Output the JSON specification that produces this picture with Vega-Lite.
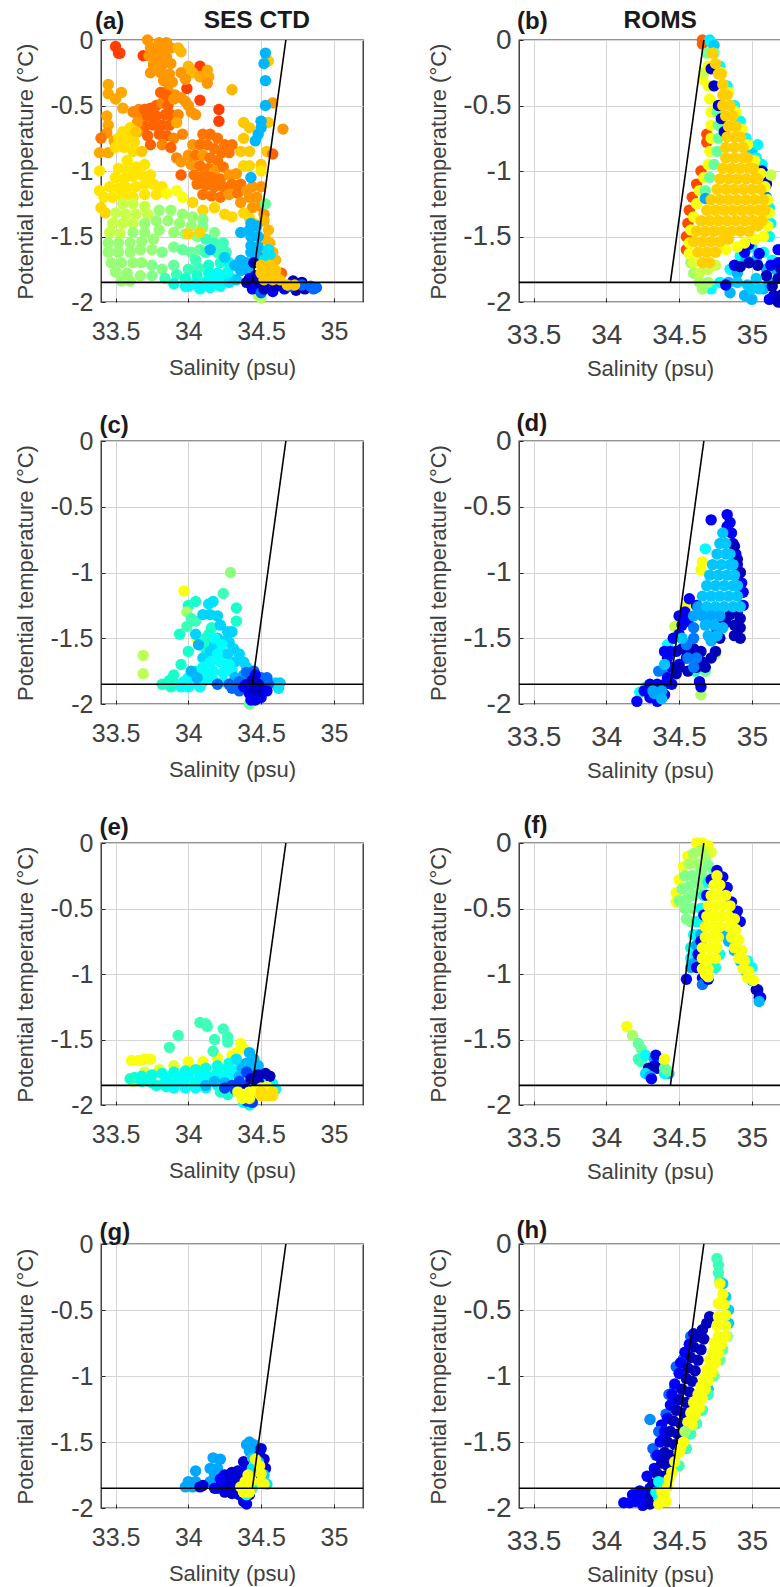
{"$schema":"https://vega.github.io/schema/vega-lite/v6.json","padding":{"left":14,"top":6,"right":0,"bottom":0},"bounds":"flush","columns":2,"spacing":{"row":139,"column":156},
"config":{"view":{"stroke":"#262626","strokeWidth":1.3},"font":"Liberation Sans","axis":{"grid":true,"gridColor":"#d4d4d4","gridWidth":1,"domain":false,"tickColor":"#262626","tickSize":-4,"labelColor":"#404040","titleColor":"#404040","titleFont":"Liberation Sans","labelFont":"Liberation Sans","titleFontWeight":"normal","titleFontSize":22},"title":{"font":"Liberation Sans","fontWeight":"bold","fontSize":24,"color":"#1a1a1a","anchor":"start","frame":"group"}},
"datasets":{"fl":[{"g":"h","s":33.4,"t":-1.85},{"g":"h","s":35.2,"t":-1.85},{"g":"v","s":34.44,"t":-1.85},{"g":"v","s":34.67,"t":0}],
"a":[{"s":33.5,"t":-0.05,"c":85},{"s":33.52,"t":-0.1,"c":85},{"s":33.53,"t":-0.1,"c":85},{"s":33.69,"t":-0.12,"c":85},{"s":34.08,"t":-0.2,"c":85},{"s":33.99,"t":-0.37,"c":85},{"s":34.08,"t":-0.46,"c":85},{"s":34.21,"t":-0.53,"c":85},{"s":34.21,"t":-0.62,"c":85},
{"s":33.72,"t":0,"c":76},{"s":33.8,"t":-0.02,"c":76},{"s":33.85,"t":-0.02,"c":76},{"s":33.74,"t":-0.06,"c":76},{"s":33.78,"t":-0.07,"c":76},{"s":33.83,"t":-0.07,"c":76},{"s":33.88,"t":-0.06,"c":76},{"s":33.73,"t":-0.12,"c":76},{"s":33.79,"t":-0.13,"c":76},{"s":33.85,"t":-0.13,"c":76},{"s":33.76,"t":-0.19,"c":76},{"s":33.82,"t":-0.19,"c":76},{"s":33.88,"t":-0.18,"c":76},{"s":33.74,"t":-0.25,"c":76},{"s":33.81,"t":-0.25,"c":76},{"s":33.87,"t":-0.26,"c":76},{"s":33.83,"t":-0.31,"c":76},{"s":33.89,"t":-0.32,"c":76},{"s":33.86,"t":-0.38,"c":76},{"s":33.91,"t":-0.42,"c":76},{"s":33.93,"t":-0.06,"c":72},{"s":33.95,"t":-0.09,"c":72},{"s":34,"t":-0.2,"c":72},{"s":34.03,"t":-0.25,"c":72},{"s":34.08,"t":-0.28,"c":74},{"s":34.13,"t":-0.23,"c":74},{"s":34.14,"t":-0.28,"c":74},{"s":34.13,"t":-0.33,"c":76},{"s":33.95,"t":-0.25,"c":76},{"s":33.98,"t":-0.3,"c":76},{"s":34.3,"t":-0.38,"c":72},
{"s":33.45,"t":-0.34,"c":74},{"s":33.45,"t":-0.41,"c":74},{"s":33.5,"t":-0.45,"c":74},{"s":33.54,"t":-0.4,"c":74},{"s":33.55,"t":-0.52,"c":74},{"s":33.44,"t":-0.58,"c":74},{"s":33.45,"t":-0.65,"c":74},{"s":33.44,"t":-0.71,"c":76},{"s":33.4,"t":-0.75,"c":80},{"s":33.39,"t":-0.86,"c":74},{"s":33.45,"t":-0.86,"c":74},{"s":33.49,"t":-0.77,"c":74},
{"s":33.62,"t":-0.55,"c":78},{"s":33.66,"t":-0.53,"c":78},{"s":33.7,"t":-0.53,"c":82},{"s":33.74,"t":-0.52,"c":82},{"s":33.78,"t":-0.5,"c":82},{"s":33.82,"t":-0.48,"c":78},{"s":33.86,"t":-0.5,"c":82},{"s":33.81,"t":-0.4,"c":82},{"s":33.85,"t":-0.42,"c":82},{"s":33.66,"t":-0.6,"c":78},{"s":33.72,"t":-0.58,"c":82},{"s":33.78,"t":-0.58,"c":82},{"s":33.84,"t":-0.57,"c":82},{"s":33.88,"t":-0.57,"c":82},{"s":33.93,"t":-0.57,"c":78},{"s":33.7,"t":-0.66,"c":82},{"s":33.76,"t":-0.65,"c":82},{"s":33.82,"t":-0.65,"c":82},{"s":33.87,"t":-0.65,"c":82},{"s":33.92,"t":-0.63,"c":74},{"s":33.65,"t":-0.7,"c":78},{"s":33.72,"t":-0.73,"c":82},{"s":33.8,"t":-0.72,"c":82},{"s":33.85,"t":-0.73,"c":82},{"s":33.9,"t":-0.75,"c":78},{"s":33.96,"t":-0.72,"c":78},{"s":33.74,"t":-0.8,"c":82},{"s":33.82,"t":-0.8,"c":78},{"s":33.88,"t":-0.82,"c":82},{"s":33.92,"t":-0.9,"c":78},{"s":33.9,"t":-0.45,"c":76},{"s":33.95,"t":-0.44,"c":76},{"s":33.98,"t":-0.47,"c":76},{"s":34,"t":-0.5,"c":76},{"s":34.02,"t":-0.55,"c":76},{"s":34.05,"t":-0.57,"c":76},{"s":33.6,"t":-0.7,"c":76},{"s":33.65,"t":-0.63,"c":76},
{"s":34.1,"t":-0.72,"c":80},{"s":34.15,"t":-0.72,"c":80},{"s":34.2,"t":-0.75,"c":80},{"s":34.25,"t":-0.8,"c":80},{"s":34.3,"t":-0.8,"c":80},{"s":34.03,"t":-0.8,"c":76},{"s":34.08,"t":-0.8,"c":80},{"s":34.13,"t":-0.8,"c":80},{"s":34.18,"t":-0.83,"c":80},{"s":34.23,"t":-0.86,"c":80},{"s":34.28,"t":-0.86,"c":80},{"s":34,"t":-0.88,"c":76},{"s":34.05,"t":-0.88,"c":80},{"s":34.1,"t":-0.88,"c":76},{"s":34.15,"t":-0.9,"c":80},{"s":34.2,"t":-0.92,"c":80},{"s":33.95,"t":-0.93,"c":76},{"s":34.02,"t":-0.95,"c":76},{"s":34.08,"t":-0.96,"c":80},{"s":34.14,"t":-0.98,"c":80},{"s":34.18,"t":-1,"c":76},{"s":34.24,"t":-0.97,"c":80},{"s":34.04,"t":-1.03,"c":80},{"s":33.95,"t":-1.03,"c":82},{"s":34.1,"t":-1.04,"c":80},{"s":34.16,"t":-1.05,"c":80},{"s":34.22,"t":-1.06,"c":80},{"s":34.28,"t":-1.03,"c":76},{"s":34.33,"t":-1.02,"c":76},{"s":34.06,"t":-1.1,"c":80},{"s":34.12,"t":-1.11,"c":80},{"s":34.18,"t":-1.12,"c":80},{"s":34.24,"t":-1.12,"c":80},{"s":34.3,"t":-1.1,"c":80},{"s":34.36,"t":-1.1,"c":80},{"s":34.1,"t":-1.18,"c":80},{"s":34.16,"t":-1.19,"c":80},{"s":34.22,"t":-1.2,"c":80},{"s":34.28,"t":-1.18,"c":76},{"s":34.34,"t":-1.17,"c":80},{"s":34.4,"t":-1.15,"c":76},{"s":34.44,"t":-1.12,"c":76},{"s":34.42,"t":-1.2,"c":76},{"s":34.47,"t":-1.2,"c":76},{"s":34.5,"t":-1.12,"c":76},{"s":34.36,"t":-1.24,"c":76},{"s":34.44,"t":-1.28,"c":76},{"s":34.5,"t":-1.27,"c":76},{"s":34.52,"t":-1.33,"c":76},
{"s":34.38,"t":-0.63,"c":70},{"s":34.42,"t":-0.67,"c":70},{"s":34.38,"t":-0.75,"c":70},{"s":34.36,"t":-0.85,"c":70},{"s":34.42,"t":-0.85,"c":70},{"s":34.55,"t":-0.63,"c":70},{"s":34.5,"t":-0.62,"c":70},{"s":34.58,"t":-0.48,"c":76},{"s":34.65,"t":-0.68,"c":76},{"s":34.54,"t":-0.85,"c":70},{"s":34.5,"t":-0.95,"c":70},{"s":34.38,"t":-0.96,"c":68},{"s":34.42,"t":-0.96,"c":68},{"s":34.5,"t":-1,"c":66},{"s":34.58,"t":-0.87,"c":82},{"s":34.55,"t":-0.16,"c":70},
{"s":34.52,"t":-1.38,"c":72},{"s":34.55,"t":-1.45,"c":72},{"s":34.53,"t":-1.52,"c":72},{"s":34.56,"t":-1.55,"c":72},{"s":34.58,"t":-1.62,"c":72},{"s":34.54,"t":-1.62,"c":72},{"s":34.6,"t":-1.68,"c":72},
{"s":34.1,"t":-1.3,"c":68},{"s":34.18,"t":-1.28,"c":68},{"s":34.25,"t":-1.33,"c":68},{"s":34.3,"t":-1.35,"c":68},{"s":34.38,"t":-1.32,"c":68},{"s":34.42,"t":-1.36,"c":68},{"s":34.45,"t":-1.4,"c":68},{"s":34.03,"t":-1.24,"c":68},{"s":33.96,"t":-1.2,"c":62},
{"s":33.55,"t":-0.7,"c":67},{"s":33.6,"t":-0.67,"c":67},{"s":33.64,"t":-0.7,"c":70},{"s":33.52,"t":-0.75,"c":67},{"s":33.58,"t":-0.75,"c":67},{"s":33.63,"t":-0.78,"c":67},{"s":33.5,"t":-0.82,"c":67},{"s":33.56,"t":-0.82,"c":67},{"s":33.62,"t":-0.85,"c":67},{"s":33.68,"t":-0.85,"c":70},{"s":33.58,"t":-0.92,"c":66},{"s":33.52,"t":-0.98,"c":66},{"s":33.58,"t":-1,"c":66},{"s":33.64,"t":-0.97,"c":66},{"s":33.7,"t":-0.95,"c":66},{"s":33.5,"t":-1.05,"c":66},{"s":33.56,"t":-1.06,"c":66},{"s":33.62,"t":-1.04,"c":66},{"s":33.68,"t":-1.03,"c":66},{"s":33.74,"t":-1.03,"c":66},{"s":33.46,"t":-1.12,"c":66},{"s":33.52,"t":-1.13,"c":66},{"s":33.58,"t":-1.13,"c":66},{"s":33.64,"t":-1.12,"c":66},{"s":33.7,"t":-1.1,"c":66},{"s":33.76,"t":-1.1,"c":66},{"s":33.82,"t":-1.12,"c":66},{"s":33.39,"t":-1,"c":66},{"s":33.39,"t":-1.15,"c":66},{"s":33.42,"t":-1.2,"c":66},{"s":33.48,"t":-1.2,"c":66},{"s":33.55,"t":-1.2,"c":66},{"s":33.62,"t":-1.2,"c":66},{"s":33.7,"t":-1.18,"c":66},{"s":33.78,"t":-1.18,"c":66},{"s":33.85,"t":-1.17,"c":63},{"s":33.92,"t":-1.15,"c":62},{"s":33.4,"t":-1.28,"c":68},{"s":33.43,"t":-1.32,"c":68},
{"s":33.55,"t":-1.25,"c":58},{"s":33.62,"t":-1.25,"c":58},{"s":33.7,"t":-1.27,"c":58},{"s":33.5,"t":-1.32,"c":58},{"s":33.57,"t":-1.33,"c":58},{"s":33.64,"t":-1.33,"c":58},{"s":33.72,"t":-1.33,"c":58},{"s":33.48,"t":-1.4,"c":58},{"s":33.55,"t":-1.4,"c":58},{"s":33.62,"t":-1.4,"c":58},{"s":33.46,"t":-1.47,"c":58},{"s":33.53,"t":-1.48,"c":58},
{"s":33.8,"t":-1.3,"c":54},{"s":33.88,"t":-1.3,"c":54},{"s":33.96,"t":-1.33,"c":54},{"s":34.03,"t":-1.35,"c":54},{"s":34.1,"t":-1.37,"c":52},{"s":33.7,"t":-1.4,"c":54},{"s":33.78,"t":-1.38,"c":54},{"s":33.86,"t":-1.38,"c":54},{"s":33.94,"t":-1.4,"c":54},{"s":34.02,"t":-1.42,"c":54},{"s":34.1,"t":-1.43,"c":52},{"s":34.18,"t":-1.47,"c":52},{"s":33.62,"t":-1.47,"c":54},{"s":33.7,"t":-1.47,"c":54},{"s":33.8,"t":-1.45,"c":54},{"s":33.45,"t":-1.55,"c":54},{"s":33.52,"t":-1.55,"c":54},{"s":33.6,"t":-1.55,"c":54},{"s":33.68,"t":-1.54,"c":54},{"s":33.76,"t":-1.52,"c":54},{"s":33.9,"t":-1.47,"c":54},{"s":33.98,"t":-1.48,"c":54},{"s":34.06,"t":-1.5,"c":52},{"s":33.45,"t":-1.62,"c":54},{"s":33.52,"t":-1.62,"c":54},{"s":33.6,"t":-1.62,"c":54},{"s":33.67,"t":-1.6,"c":54},{"s":33.75,"t":-1.6,"c":54},{"s":33.47,"t":-1.7,"c":54},{"s":33.54,"t":-1.7,"c":54},{"s":33.62,"t":-1.7,"c":54},{"s":33.5,"t":-1.77,"c":54},{"s":33.58,"t":-1.78,"c":54},{"s":33.68,"t":-1.7,"c":54},{"s":33.54,"t":-1.84,"c":54},{"s":33.6,"t":-1.84,"c":54},{"s":33.67,"t":-1.8,"c":54},{"s":33.75,"t":-1.72,"c":52},{"s":33.82,"t":-1.62,"c":52},{"s":33.9,"t":-1.58,"c":52},{"s":33.96,"t":-1.6,"c":50},{"s":34.02,"t":-1.62,"c":50},{"s":34.08,"t":-1.6,"c":50},{"s":33.75,"t":-1.8,"c":52},{"s":33.82,"t":-1.75,"c":52},{"s":33.9,"t":-1.72,"c":50},
{"s":34.12,"t":-1.52,"c":47},{"s":34.18,"t":-1.55,"c":47},{"s":34.24,"t":-1.55,"c":47},{"s":34.05,"t":-1.68,"c":47},{"s":34.12,"t":-1.62,"c":47},{"s":34.2,"t":-1.62,"c":47},{"s":34.26,"t":-1.62,"c":47},{"s":33.84,"t":-1.82,"c":47},{"s":33.92,"t":-1.79,"c":47},{"s":34,"t":-1.75,"c":47},{"s":34.07,"t":-1.74,"c":47},{"s":34.14,"t":-1.72,"c":45},{"s":34.22,"t":-1.7,"c":45},{"s":34.28,"t":-1.7,"c":42},{"s":33.98,"t":-1.82,"c":45},{"s":34.06,"t":-1.8,"c":45},{"s":34.14,"t":-1.78,"c":42},{"s":34.2,"t":-1.78,"c":42},{"s":34.27,"t":-1.77,"c":40},
{"s":34.53,"t":-1.25,"c":50},{"s":34.5,"t":-1.97,"c":56},{"s":34.48,"t":-1.95,"c":56},{"s":34.5,"t":-1.93,"c":56},{"s":34,"t":-1.48,"c":68},{"s":34.08,"t":-1.47,"c":68},{"s":34.15,"t":-1.6,"c":27},{"s":34.25,"t":-1.66,"c":30},
{"s":33.9,"t":-1.86,"c":42},{"s":33.98,"t":-1.88,"c":42},{"s":34.05,"t":-1.86,"c":40},{"s":34.12,"t":-1.85,"c":40},{"s":34.18,"t":-1.83,"c":40},{"s":34.25,"t":-1.82,"c":40},{"s":34.3,"t":-1.82,"c":38},{"s":34.15,"t":-1.89,"c":40},{"s":34.08,"t":-1.9,"c":42},{"s":34.22,"t":-1.88,"c":40},{"s":34,"t":-1.88,"c":37},{"s":34.07,"t":-1.88,"c":37},{"s":34.14,"t":-1.87,"c":37},{"s":34.22,"t":-1.85,"c":37},{"s":34.28,"t":-1.85,"c":34},{"s":34.33,"t":-1.83,"c":30},{"s":34.2,"t":-1.8,"c":37},
{"s":34.36,"t":-1.47,"c":27},{"s":34.42,"t":-1.45,"c":27},{"s":34.43,"t":-1.4,"c":27},{"s":34.47,"t":-1.42,"c":27},{"s":34.43,"t":-1.5,"c":27},{"s":34.48,"t":-1.5,"c":27},{"s":34.43,"t":-1.57,"c":27},{"s":34.48,"t":-1.58,"c":27},{"s":34.43,"t":-1.62,"c":27},{"s":34.48,"t":-1.65,"c":27},{"s":34.4,"t":-1.7,"c":27},{"s":34.36,"t":-1.68,"c":27},{"s":34.32,"t":-1.72,"c":27},{"s":34.36,"t":-1.76,"c":27},{"s":34.42,"t":-1.77,"c":27},{"s":34.55,"t":-1.6,"c":33},{"s":34.52,"t":-1.68,"c":33},{"s":34.56,"t":-1.64,"c":33},
{"s":34.53,"t":-0.1,"c":27},{"s":34.52,"t":-0.18,"c":27},{"s":34.53,"t":-0.31,"c":27},{"s":34.53,"t":-0.5,"c":27},{"s":34.5,"t":-0.62,"c":27},{"s":34.5,"t":-0.67,"c":27},{"s":34.48,"t":-0.72,"c":27},{"s":34.46,"t":-0.77,"c":27},{"s":34.43,"t":-1.05,"c":27},
{"s":34.42,"t":-1.82,"c":12},{"s":34.46,"t":-1.8,"c":12},{"s":34.5,"t":-1.83,"c":12},{"s":34.56,"t":-1.84,"c":12},{"s":34.44,"t":-1.9,"c":12},{"s":34.5,"t":-1.93,"c":18},{"s":34.58,"t":-1.92,"c":12},{"s":34.66,"t":-1.9,"c":12},{"s":34.45,"t":-1.7,"c":5},{"s":34.4,"t":-1.85,"c":5},{"s":34.48,"t":-1.85,"c":5},{"s":34.52,"t":-1.9,"c":5},{"s":34.6,"t":-1.88,"c":5},{"s":34.68,"t":-1.88,"c":5},{"s":34.72,"t":-1.84,"c":5},{"s":34.78,"t":-1.85,"c":5},{"s":34.8,"t":-1.9,"c":5},{"s":34.74,"t":-1.91,"c":5},{"s":34.7,"t":-1.88,"c":18},{"s":34.78,"t":-1.87,"c":18},{"s":34.84,"t":-1.88,"c":18},{"s":34.88,"t":-1.89,"c":18},{"s":34.86,"t":-1.9,"c":18},
{"s":34.64,"t":-1.78,"c":82},{"s":34.5,"t":-1.72,"c":70},{"s":34.56,"t":-1.72,"c":70},{"s":34.5,"t":-1.78,"c":70},{"s":34.55,"t":-1.78,"c":70},{"s":34.6,"t":-1.76,"c":70},{"s":34.52,"t":-1.83,"c":70},{"s":34.58,"t":-1.83,"c":70},{"s":34.63,"t":-1.83,"c":70},{"s":34.68,"t":-1.87,"c":70},{"s":34.73,"t":-1.87,"c":70}],
"b":[{"s":34.72,"t":-1.9,"c":37},{"s":34.78,"t":-1.85,"c":37},{"s":34.85,"t":-1.75,"c":37},{"s":34.92,"t":-1.65,"c":37},{"s":35,"t":-1.58,"c":37},{"s":35.08,"t":-1.62,"c":37},{"s":35.14,"t":-1.68,"c":37},{"s":35.18,"t":-1.6,"c":12},{"s":34.84,"t":-1.85,"c":27},{"s":34.9,"t":-1.78,"c":27},{"s":34.96,"t":-1.68,"c":27},{"s":35.03,"t":-1.68,"c":27},{"s":35.1,"t":-1.75,"c":27},{"s":35.16,"t":-1.75,"c":27},{"s":34.85,"t":-1.93,"c":27},{"s":34.95,"t":-1.95,"c":27},{"s":35,"t":-1.98,"c":27},{"s":35.08,"t":-1.9,"c":27},{"s":35.12,"t":-1.85,"c":27},
{"s":34.82,"t":-1.87,"c":12},{"s":34.88,"t":-1.72,"c":12},{"s":34.95,"t":-1.62,"c":12},{"s":34.98,"t":-1.56,"c":12},{"s":35.05,"t":-1.63,"c":12},{"s":35.13,"t":-1.72,"c":12},{"s":35.18,"t":-1.7,"c":12},{"s":34.92,"t":-1.73,"c":5},{"s":34.98,"t":-1.7,"c":5},{"s":35.04,"t":-1.72,"c":5},{"s":35.1,"t":-1.8,"c":5},{"s":35.14,"t":-1.88,"c":5},{"s":35.18,"t":-1.82,"c":5},{"s":35.2,"t":-1.75,"c":5},{"s":35.15,"t":-1.95,"c":5},{"s":35.2,"t":-1.95,"c":5},{"s":35.12,"t":-1.98,"c":12},{"s":35.18,"t":-2,"c":5},{"s":34.9,"t":-1.85,"c":30},{"s":34.97,"t":-1.87,"c":30},{"s":35.03,"t":-1.82,"c":30},{"s":35.05,"t":-1.9,"c":30},{"s":35,"t":-1.9,"c":30},
{"s":34.58,"t":-1.7,"c":55},{"s":34.6,"t":-1.78,"c":55},{"s":34.64,"t":-1.85,"c":55},{"s":34.66,"t":-1.9,"c":55},{"s":34.7,"t":-1.85,"c":55},
{"s":34.66,"t":0,"c":82},{"s":34.66,"t":-0.03,"c":82},{"s":34.69,"t":-0.72,"c":84},{"s":34.69,"t":-0.78,"c":84},{"s":34.65,"t":-1,"c":84},{"s":34.62,"t":-1.1,"c":84},{"s":34.59,"t":-1.2,"c":84},{"s":34.57,"t":-1.3,"c":84},{"s":34.56,"t":-1.4,"c":84},{"s":34.55,"t":-1.5,"c":84},{"s":34.55,"t":-1.6,"c":84},
{"s":34.71,"t":0,"c":34},{"s":34.72,"t":-0.02,"c":36},{"s":34.66,"t":-0.3,"c":62},{"s":34.67,"t":-0.25,"c":58},{"s":34.69,"t":-0.1,"c":52},{"s":34.7,"t":-0.2,"c":62},{"s":34.7,"t":-0.35,"c":62},{"s":34.71,"t":-0.45,"c":62},{"s":34.72,"t":-0.55,"c":62},{"s":34.72,"t":-0.65,"c":62},{"s":34.72,"t":-0.75,"c":62},{"s":34.71,"t":-0.85,"c":62},{"s":34.7,"t":-0.95,"c":62},{"s":34.67,"t":-1.05,"c":62},{"s":34.64,"t":-1.15,"c":62},{"s":34.62,"t":-1.25,"c":62},{"s":34.6,"t":-1.35,"c":62},{"s":34.58,"t":-1.45,"c":62},{"s":34.57,"t":-1.55,"c":62},{"s":34.57,"t":-1.63,"c":62},{"s":34.6,"t":-1.7,"c":60},
{"s":34.76,"t":-0.55,"c":50},{"s":34.77,"t":-0.65,"c":50},{"s":34.77,"t":-0.75,"c":50},{"s":34.76,"t":-0.85,"c":50},{"s":34.74,"t":-0.95,"c":50},{"s":34.71,"t":-1.05,"c":50},{"s":34.68,"t":-1.15,"c":50},{"s":34.68,"t":-1.21,"c":25},
{"s":34.72,"t":-0.22,"c":6},{"s":34.74,"t":-0.35,"c":6},{"s":34.77,"t":-0.5,"c":6},{"s":34.79,"t":-0.6,"c":6},{"s":34.81,"t":-0.7,"c":6},
{"s":34.74,"t":-0.04,"c":30},{"s":34.78,"t":-0.2,"c":37},{"s":34.83,"t":-0.35,"c":37},{"s":34.88,"t":-0.5,"c":37},{"s":34.92,"t":-0.62,"c":37},{"s":34.96,"t":-0.75,"c":37},{"s":35,"t":-0.85,"c":30},{"s":35.04,"t":-0.95,"c":30},{"s":35.08,"t":-1.02,"c":6},{"s":35.1,"t":-1.1,"c":6},{"s":35.04,"t":-0.8,"c":36},{"s":35.03,"t":-0.9,"c":36},{"s":35.07,"t":-0.95,"c":36},{"s":35.07,"t":-1,"c":6},{"s":35.13,"t":-1.03,"c":58},{"s":35.1,"t":-1.2,"c":20},{"s":35.12,"t":-1.28,"c":36},{"s":35.13,"t":-1.4,"c":36},{"s":35.12,"t":-1.5,"c":36},
{"s":34.74,"t":-0.1,"c":50},{"s":34.79,"t":-0.25,"c":62},{"s":34.84,"t":-0.4,"c":62},{"s":34.89,"t":-0.55,"c":62},{"s":34.93,"t":-0.68,"c":62},{"s":34.97,"t":-0.8,"c":62},{"s":35.02,"t":-0.92,"c":62},{"s":35.06,"t":-1.02,"c":62},{"s":35.09,"t":-1.12,"c":62},{"s":35.11,"t":-1.22,"c":62},{"s":35.12,"t":-1.32,"c":62},{"s":35.11,"t":-1.42,"c":62},{"s":35.08,"t":-1.5,"c":62},{"s":35.02,"t":-1.52,"c":62},{"s":34.95,"t":-1.55,"c":62},{"s":34.9,"t":-1.58,"c":62},{"s":34.82,"t":-1.6,"c":62},{"s":34.75,"t":-1.72,"c":58},{"s":34.7,"t":-1.75,"c":58},{"s":34.64,"t":-1.78,"c":58},
{"s":34.73,"t":-0.1,"c":69},{"s":34.75,"t":-0.18,"c":69},{"s":34.77,"t":-0.26,"c":69},{"s":34.79,"t":-0.26,"c":69},{"s":34.8,"t":-0.34,"c":69},{"s":34.8,"t":-0.42,"c":69},{"s":34.83,"t":-0.42,"c":69},{"s":34.8,"t":-0.5,"c":69},{"s":34.85,"t":-0.5,"c":69},{"s":34.82,"t":-0.58,"c":69},{"s":34.87,"t":-0.58,"c":69},{"s":34.84,"t":-0.66,"c":69},{"s":34.89,"t":-0.66,"c":69},{"s":34.83,"t":-0.74,"c":69},{"s":34.88,"t":-0.74,"c":69},{"s":34.92,"t":-0.74,"c":69},{"s":34.82,"t":-0.82,"c":69},{"s":34.88,"t":-0.82,"c":69},{"s":34.94,"t":-0.82,"c":69},{"s":34.82,"t":-0.9,"c":69},{"s":34.88,"t":-0.9,"c":69},{"s":34.94,"t":-0.9,"c":69},{"s":34.97,"t":-0.9,"c":69},{"s":34.8,"t":-0.98,"c":69},{"s":34.86,"t":-0.98,"c":69},{"s":34.92,"t":-0.98,"c":69},{"s":34.98,"t":-0.98,"c":69},{"s":35.01,"t":-0.98,"c":69},{"s":34.78,"t":-1.06,"c":69},{"s":34.84,"t":-1.06,"c":69},{"s":34.9,"t":-1.06,"c":69},{"s":34.96,"t":-1.06,"c":69},{"s":35.02,"t":-1.06,"c":69},{"s":35.04,"t":-1.06,"c":69},{"s":34.76,"t":-1.14,"c":69},{"s":34.82,"t":-1.14,"c":69},{"s":34.88,"t":-1.14,"c":69},{"s":34.94,"t":-1.14,"c":69},{"s":35,"t":-1.14,"c":69},{"s":35.06,"t":-1.14,"c":69},{"s":34.72,"t":-1.22,"c":69},{"s":34.78,"t":-1.22,"c":69},{"s":34.84,"t":-1.22,"c":69},{"s":34.9,"t":-1.22,"c":69},{"s":34.96,"t":-1.22,"c":69},{"s":35.02,"t":-1.22,"c":69},{"s":35.08,"t":-1.22,"c":69},{"s":34.69,"t":-1.3,"c":69},{"s":34.75,"t":-1.3,"c":69},{"s":34.81,"t":-1.3,"c":69},{"s":34.87,"t":-1.3,"c":69},{"s":34.93,"t":-1.3,"c":69},{"s":34.99,"t":-1.3,"c":69},{"s":35.05,"t":-1.3,"c":69},{"s":35.09,"t":-1.3,"c":69},{"s":34.65,"t":-1.38,"c":69},{"s":34.71,"t":-1.38,"c":69},{"s":34.77,"t":-1.38,"c":69},{"s":34.83,"t":-1.38,"c":69},{"s":34.89,"t":-1.38,"c":69},{"s":34.95,"t":-1.38,"c":69},{"s":35.01,"t":-1.38,"c":69},{"s":35.07,"t":-1.38,"c":69},{"s":34.62,"t":-1.46,"c":69},{"s":34.68,"t":-1.46,"c":69},{"s":34.74,"t":-1.46,"c":69},{"s":34.8,"t":-1.46,"c":69},{"s":34.86,"t":-1.46,"c":69},{"s":34.92,"t":-1.46,"c":69},{"s":34.98,"t":-1.46,"c":69},{"s":35.04,"t":-1.42,"c":69},{"s":34.6,"t":-1.54,"c":69},{"s":34.66,"t":-1.54,"c":69},{"s":34.72,"t":-1.54,"c":69},{"s":34.78,"t":-1.54,"c":69},{"s":34.84,"t":-1.52,"c":69},{"s":34.63,"t":-1.62,"c":69},{"s":34.69,"t":-1.62,"c":69},{"s":34.75,"t":-1.62,"c":69},{"s":34.66,"t":-1.7,"c":69},{"s":34.71,"t":-1.7,"c":69}],
"c":[{"s":34.29,"t":-1,"c":53},{"s":33.97,"t":-1.14,"c":62},{"s":34.24,"t":-1.16,"c":47},{"s":34.05,"t":-1.22,"c":45},{"s":34,"t":-1.25,"c":45},{"s":34.17,"t":-1.22,"c":33},{"s":34.14,"t":-1.24,"c":33},{"s":34.33,"t":-1.27,"c":45},{"s":34.33,"t":-1.37,"c":45},{"s":33.99,"t":-1.3,"c":55},{"s":34.02,"t":-1.35,"c":47},{"s":34.05,"t":-1.37,"c":47},{"s":33.69,"t":-1.63,"c":57},{"s":33.69,"t":-1.77,"c":57},{"s":33.94,"t":-1.47,"c":45},{"s":33.99,"t":-1.41,"c":47},{"s":34.06,"t":-1.51,"c":62},{"s":34.16,"t":-1.42,"c":45},{"s":34.14,"t":-1.47,"c":45},
{"s":33.82,"t":-1.85,"c":45},{"s":33.87,"t":-1.82,"c":45},{"s":33.9,"t":-1.78,"c":45},{"s":33.95,"t":-1.7,"c":45},{"s":34,"t":-1.6,"c":45},{"s":33.88,"t":-1.87,"c":45},{"s":33.94,"t":-1.85,"c":45},{"s":34.08,"t":-1.55,"c":45},{"s":34.12,"t":-1.5,"c":45},{"s":34.15,"t":-1.5,"c":45},{"s":34.12,"t":-1.58,"c":45},
{"s":34.1,"t":-1.32,"c":31},{"s":34.15,"t":-1.32,"c":31},{"s":34.2,"t":-1.33,"c":31},{"s":34.22,"t":-1.4,"c":31},{"s":34.05,"t":-1.47,"c":31},{"s":34.07,"t":-1.55,"c":27},{"s":34.27,"t":-1.45,"c":31},{"s":34.3,"t":-1.45,"c":31},{"s":34.25,"t":-1.52,"c":31},{"s":34.2,"t":-1.5,"c":31},{"s":34.28,"t":-1.53,"c":31},{"s":34.31,"t":-1.58,"c":31},{"s":34.35,"t":-1.62,"c":31},{"s":34.38,"t":-1.68,"c":31},{"s":34.4,"t":-1.72,"c":31},{"s":34.18,"t":-1.55,"c":31},{"s":34.15,"t":-1.6,"c":31},{"s":34.1,"t":-1.65,"c":31},{"s":34.22,"t":-1.6,"c":31},{"s":34.27,"t":-1.62,"c":31},{"s":34.32,"t":-1.68,"c":31},
{"s":34.18,"t":-1.5,"c":38},{"s":34.23,"t":-1.55,"c":38},{"s":34.2,"t":-1.62,"c":38},{"s":34.15,"t":-1.68,"c":38},{"s":34.1,"t":-1.72,"c":38},{"s":34.05,"t":-1.75,"c":38},{"s":34.22,"t":-1.68,"c":38},{"s":34.28,"t":-1.7,"c":38},{"s":34.17,"t":-1.75,"c":38},{"s":34.12,"t":-1.78,"c":38},{"s":34.07,"t":-1.8,"c":38},{"s":34,"t":-1.8,"c":38},{"s":33.97,"t":-1.83,"c":38},{"s":34.03,"t":-1.84,"c":38},{"s":34.1,"t":-1.83,"c":38},{"s":34.17,"t":-1.82,"c":38},{"s":34.24,"t":-1.76,"c":38},{"s":34.3,"t":-1.75,"c":38},{"s":34.24,"t":-1.83,"c":38},{"s":34,"t":-1.87,"c":38},{"s":34.08,"t":-1.87,"c":38},{"s":33.95,"t":-1.87,"c":38},
{"s":34.02,"t":-1.75,"c":27},{"s":34.06,"t":-1.8,"c":27},{"s":34.32,"t":-1.8,"c":27},{"s":34.38,"t":-1.78,"c":27},{"s":34.45,"t":-1.82,"c":27},{"s":34.6,"t":-1.84,"c":30},{"s":34.63,"t":-1.84,"c":30},{"s":34.62,"t":-1.88,"c":33},{"s":34.42,"t":-2,"c":50},
{"s":34.2,"t":-1.85,"c":18},{"s":34.28,"t":-1.85,"c":18},{"s":34.35,"t":-1.83,"c":18},{"s":34.4,"t":-1.76,"c":18},{"s":34.45,"t":-1.75,"c":18},{"s":34.5,"t":-1.8,"c":18},{"s":34.54,"t":-1.8,"c":18},{"s":34.55,"t":-1.85,"c":18},{"s":34.3,"t":-1.88,"c":18},{"s":34.35,"t":-1.9,"c":18},
{"s":34.4,"t":-1.85,"c":12},{"s":34.46,"t":-1.78,"c":12},{"s":34.44,"t":-1.85,"c":12},{"s":34.38,"t":-1.87,"c":12},{"s":34.42,"t":-1.92,"c":12},{"s":34.5,"t":-1.88,"c":12},{"s":34.54,"t":-1.9,"c":12},{"s":34.47,"t":-1.96,"c":12},{"s":34.43,"t":-1.97,"c":12},{"s":34.5,"t":-1.95,"c":12},{"s":34.44,"t":-1.82,"c":6},{"s":34.48,"t":-1.85,"c":6},{"s":34.45,"t":-1.9,"c":6},{"s":34.48,"t":-1.92,"c":6},{"s":34.46,"t":-1.97,"c":10}],
"d":[{"s":34.72,"t":-0.6,"c":12},{"s":34.83,"t":-0.56,"c":12},{"s":34.85,"t":-0.62,"c":12},{"s":34.83,"t":-0.65,"c":12},{"s":34.86,"t":-0.7,"c":12},{"s":34.87,"t":-0.78,"c":12},{"s":34.89,"t":-0.86,"c":12},{"s":34.9,"t":-0.94,"c":12},{"s":34.92,"t":-1,"c":12},{"s":34.93,"t":-1.08,"c":12},{"s":34.94,"t":-1.15,"c":12},{"s":34.94,"t":-1.25,"c":12},{"s":34.88,"t":-0.8,"c":5},{"s":34.9,"t":-0.9,"c":5},{"s":34.92,"t":-1,"c":5},
{"s":34.68,"t":-0.82,"c":37},{"s":34.66,"t":-0.92,"c":62},{"s":34.65,"t":-0.98,"c":62},{"s":34.55,"t":-1.26,"c":62},{"s":34.47,"t":-1.41,"c":58},{"s":34.42,"t":-1.55,"c":38},{"s":34.75,"t":-1.62,"c":55},{"s":34.68,"t":-1.75,"c":50},{"s":34.61,"t":-1.75,"c":45},{"s":34.65,"t":-1.93,"c":56},{"s":34.27,"t":-1.87,"c":50},{"s":34.23,"t":-1.91,"c":38},
{"s":34.57,"t":-1.2,"c":12},{"s":34.62,"t":-1.25,"c":12},{"s":34.54,"t":-1.3,"c":12},{"s":34.5,"t":-1.33,"c":12},{"s":34.52,"t":-1.4,"c":12},{"s":34.56,"t":-1.37,"c":12},{"s":34.5,"t":-1.47,"c":12},{"s":34.46,"t":-1.5,"c":12},{"s":34.44,"t":-1.6,"c":12},{"s":34.48,"t":-1.6,"c":12},{"s":34.4,"t":-1.6,"c":12},{"s":34.42,"t":-1.65,"c":12},{"s":34.36,"t":-1.75,"c":20},{"s":34.4,"t":-1.75,"c":20},{"s":34.45,"t":-1.72,"c":12},{"s":34.42,"t":-1.8,"c":12},{"s":34.5,"t":-1.7,"c":12},{"s":34.55,"t":-1.65,"c":12},
{"s":34.52,"t":-1.58,"c":5},{"s":34.56,"t":-1.62,"c":5},{"s":34.5,"t":-1.72,"c":5},{"s":34.48,"t":-1.77,"c":5},{"s":34.6,"t":-1.58,"c":5},{"s":34.65,"t":-1.6,"c":5},{"s":34.66,"t":-1.68,"c":5},{"s":34.72,"t":-1.65,"c":5},{"s":34.75,"t":-1.6,"c":5},{"s":34.68,"t":-1.72,"c":5},{"s":34.62,"t":-1.72,"c":5},{"s":34.56,"t":-1.75,"c":5},{"s":34.62,"t":-1.65,"c":20},{"s":34.6,"t":-1.72,"c":20},{"s":34.64,"t":-1.83,"c":10},{"s":34.65,"t":-1.87,"c":10},
{"s":34.3,"t":-1.85,"c":12},{"s":34.35,"t":-1.85,"c":12},{"s":34.4,"t":-1.85,"c":12},{"s":34.26,"t":-1.9,"c":12},{"s":34.3,"t":-1.95,"c":12},{"s":34.35,"t":-1.98,"c":12},{"s":34.4,"t":-1.93,"c":12},{"s":34.38,"t":-1.9,"c":12},{"s":34.21,"t":-1.98,"c":12},{"s":34.45,"t":-1.85,"c":12},
{"s":34.8,"t":-1.35,"c":5},{"s":34.82,"t":-1.38,"c":5},{"s":34.85,"t":-1.32,"c":5},{"s":34.9,"t":-1.3,"c":5},{"s":34.92,"t":-1.35,"c":5},{"s":34.88,"t":-1.4,"c":5},{"s":34.92,"t":-1.42,"c":5},{"s":34.88,"t":-1.48,"c":5},{"s":34.92,"t":-1.5,"c":5},{"s":34.76,"t":-1.45,"c":5},{"s":34.78,"t":-1.5,"c":5},
{"s":34.8,"t":-0.7,"c":29},{"s":34.78,"t":-0.78,"c":29},{"s":34.82,"t":-0.78,"c":29},{"s":34.76,"t":-0.86,"c":29},{"s":34.82,"t":-0.86,"c":29},{"s":34.85,"t":-0.86,"c":29},{"s":34.73,"t":-0.94,"c":29},{"s":34.79,"t":-0.94,"c":29},{"s":34.85,"t":-0.94,"c":29},{"s":34.87,"t":-0.94,"c":29},{"s":34.71,"t":-1.02,"c":29},{"s":34.77,"t":-1.02,"c":29},{"s":34.83,"t":-1.02,"c":29},{"s":34.88,"t":-1.02,"c":29},{"s":34.69,"t":-1.1,"c":29},{"s":34.75,"t":-1.1,"c":29},{"s":34.81,"t":-1.1,"c":29},{"s":34.87,"t":-1.1,"c":29},{"s":34.9,"t":-1.1,"c":29},{"s":34.66,"t":-1.18,"c":29},{"s":34.72,"t":-1.18,"c":29},{"s":34.78,"t":-1.18,"c":29},{"s":34.84,"t":-1.18,"c":29},{"s":34.9,"t":-1.18,"c":29},{"s":34.63,"t":-1.26,"c":25},{"s":34.69,"t":-1.26,"c":29},{"s":34.75,"t":-1.26,"c":29},{"s":34.81,"t":-1.26,"c":29},{"s":34.87,"t":-1.26,"c":29},{"s":34.92,"t":-1.26,"c":29},
{"s":34.6,"t":-1.33,"c":25},{"s":34.66,"t":-1.33,"c":25},{"s":34.72,"t":-1.33,"c":25},{"s":34.78,"t":-1.33,"c":25},{"s":34.68,"t":-1.4,"c":27},{"s":34.74,"t":-1.4,"c":27},{"s":34.8,"t":-1.42,"c":27},{"s":34.7,"t":-1.48,"c":27},{"s":34.76,"t":-1.48,"c":27},{"s":34.72,"t":-1.52,"c":27},{"s":34.6,"t":-1.42,"c":20},{"s":34.55,"t":-1.55,"c":20},{"s":34.6,"t":-1.5,"c":20},{"s":34.56,"t":-1.65,"c":20},{"s":34.52,"t":-1.5,"c":29},{"s":34.4,"t":-1.7,"c":29},{"s":34.32,"t":-1.9,"c":25},{"s":34.38,"t":-1.9,"c":25},{"s":34.33,"t":-1.92,"c":25},{"s":34.38,"t":-1.96,"c":27}],
"e":[{"s":33.61,"t":-1.66,"c":62},{"s":33.66,"t":-1.66,"c":62},{"s":33.7,"t":-1.65,"c":62},{"s":33.74,"t":-1.65,"c":62},{"s":33.62,"t":-1.82,"c":60},{"s":33.7,"t":-1.75,"c":60},{"s":33.8,"t":-1.73,"c":60},{"s":33.9,"t":-1.7,"c":60},{"s":34,"t":-1.67,"c":62},{"s":34.1,"t":-1.67,"c":62},{"s":34.2,"t":-1.64,"c":62},{"s":34.3,"t":-1.62,"c":62},{"s":34.38,"t":-1.57,"c":62},{"s":34.36,"t":-1.53,"c":62},{"s":34.33,"t":-1.6,"c":62},
{"s":34.08,"t":-1.37,"c":47},{"s":34.12,"t":-1.38,"c":47},{"s":34.13,"t":-1.4,"c":47},{"s":34.24,"t":-1.42,"c":47},{"s":34.27,"t":-1.48,"c":47},{"s":34.27,"t":-1.52,"c":47},{"s":34.18,"t":-1.5,"c":47},{"s":34.17,"t":-1.59,"c":47},{"s":33.93,"t":-1.47,"c":47},{"s":33.87,"t":-1.56,"c":47},{"s":33.6,"t":-1.8,"c":45},{"s":33.63,"t":-1.79,"c":45},
{"s":33.68,"t":-1.78,"c":42},{"s":33.75,"t":-1.77,"c":42},{"s":33.82,"t":-1.76,"c":42},{"s":33.9,"t":-1.75,"c":42},{"s":33.98,"t":-1.74,"c":42},{"s":34.05,"t":-1.73,"c":42},{"s":34.12,"t":-1.72,"c":42},{"s":34.2,"t":-1.7,"c":42},{"s":34.28,"t":-1.68,"c":42},{"s":33.68,"t":-1.82,"c":42},{"s":33.75,"t":-1.83,"c":42},{"s":33.83,"t":-1.84,"c":42},{"s":33.9,"t":-1.84,"c":42},{"s":33.97,"t":-1.84,"c":42},{"s":34.05,"t":-1.83,"c":42},{"s":34.13,"t":-1.78,"c":42},{"s":34.2,"t":-1.75,"c":42},{"s":34.27,"t":-1.72,"c":42},{"s":33.78,"t":-1.85,"c":42},{"s":33.85,"t":-1.86,"c":42},
{"s":33.9,"t":-1.87,"c":37},{"s":33.98,"t":-1.87,"c":37},{"s":34.05,"t":-1.87,"c":37},{"s":34.12,"t":-1.87,"c":37},{"s":34.2,"t":-1.85,"c":37},{"s":33.85,"t":-1.8,"c":37},{"s":33.93,"t":-1.79,"c":37},{"s":34,"t":-1.78,"c":37},{"s":34.08,"t":-1.78,"c":37},{"s":34.15,"t":-1.8,"c":37},{"s":34.22,"t":-1.78,"c":37},{"s":34.3,"t":-1.74,"c":37},{"s":34.28,"t":-1.78,"c":37},{"s":34.36,"t":-1.7,"c":37},{"s":34.22,"t":-1.9,"c":45},{"s":34.27,"t":-1.92,"c":45},{"s":34.38,"t":-1.98,"c":37},{"s":34.42,"t":-2,"c":37},{"s":34.55,"t":-1.78,"c":37},{"s":34.58,"t":-1.84,"c":37},{"s":34.6,"t":-1.88,"c":37},{"s":34.54,"t":-1.9,"c":37},{"s":34.5,"t":-1.8,"c":37},{"s":34.33,"t":-1.65,"c":33},
{"s":34.42,"t":-1.6,"c":27},{"s":34.45,"t":-1.65,"c":27},{"s":34.4,"t":-1.68,"c":27},{"s":34.37,"t":-1.72,"c":27},{"s":34.45,"t":-1.72,"c":27},{"s":34.35,"t":-1.78,"c":27},{"s":34.25,"t":-1.83,"c":27},{"s":34.18,"t":-1.82,"c":27},{"s":34.12,"t":-1.85,"c":27},{"s":34.48,"t":-1.7,"c":27},
{"s":34.4,"t":-1.75,"c":15},{"s":34.35,"t":-1.82,"c":15},{"s":34.3,"t":-1.85,"c":15},{"s":34.25,"t":-1.87,"c":15},{"s":34.32,"t":-1.88,"c":15},{"s":34.38,"t":-1.85,"c":15},{"s":34.45,"t":-1.78,"c":15},{"s":34.42,"t":-1.92,"c":15},{"s":34.4,"t":-1.97,"c":15},{"s":34.44,"t":-1.98,"c":15},{"s":34.43,"t":-1.8,"c":5},{"s":34.48,"t":-1.77,"c":5},{"s":34.53,"t":-1.76,"c":5},{"s":34.56,"t":-1.78,"c":5},{"s":34.48,"t":-1.82,"c":5},{"s":34.4,"t":-1.88,"c":5},
{"s":34.34,"t":-1.9,"c":62},{"s":34.38,"t":-1.92,"c":62},{"s":34.42,"t":-1.9,"c":62},{"s":34.46,"t":-1.89,"c":62},{"s":34.5,"t":-1.87,"c":62},{"s":34.54,"t":-1.86,"c":62},{"s":34.37,"t":-1.95,"c":62},{"s":34.42,"t":-1.95,"c":62},{"s":34.55,"t":-1.92,"c":62},{"s":34.5,"t":-1.9,"c":67},{"s":34.54,"t":-1.93,"c":67},{"s":34.58,"t":-1.9,"c":67},{"s":34.58,"t":-1.93,"c":67},{"s":34.5,"t":-1.93,"c":67}],
"f":[{"s":34.62,"t":0,"c":62},{"s":34.66,"t":0,"c":62},{"s":34.7,"t":-0.02,"c":62},{"s":34.56,"t":-0.1,"c":62},{"s":34.53,"t":-0.18,"c":62},{"s":34.5,"t":-0.28,"c":62},{"s":34.48,"t":-0.38,"c":62},{"s":34.48,"t":-0.45,"c":62},{"s":34.72,"t":-0.07,"c":60},
{"s":34.6,"t":-0.08,"c":55},{"s":34.65,"t":-0.06,"c":55},{"s":34.57,"t":-0.16,"c":55},{"s":34.62,"t":-0.16,"c":55},{"s":34.68,"t":-0.12,"c":55},{"s":34.54,"t":-0.25,"c":52},{"s":34.59,"t":-0.25,"c":52},{"s":34.65,"t":-0.22,"c":52},{"s":34.7,"t":-0.17,"c":52},{"s":34.52,"t":-0.35,"c":52},{"s":34.57,"t":-0.33,"c":52},{"s":34.62,"t":-0.3,"c":52},{"s":34.68,"t":-0.27,"c":52},{"s":34.74,"t":-0.22,"c":50},{"s":34.5,"t":-0.44,"c":52},{"s":34.56,"t":-0.42,"c":52},{"s":34.6,"t":-0.4,"c":52},{"s":34.54,"t":-0.5,"c":52},{"s":34.59,"t":-0.5,"c":52},{"s":34.55,"t":-0.58,"c":52},{"s":34.58,"t":-0.6,"c":52},{"s":34.65,"t":-0.35,"c":52},
{"s":34.7,"t":-0.3,"c":42},{"s":34.67,"t":-0.4,"c":42},{"s":34.65,"t":-0.5,"c":42},{"s":34.62,"t":-0.6,"c":42},{"s":34.6,"t":-0.7,"c":42},{"s":34.58,"t":-0.8,"c":42},{"s":34.7,"t":-0.4,"c":37},{"s":34.68,"t":-0.5,"c":37},{"s":34.66,"t":-0.6,"c":37},{"s":34.63,"t":-0.7,"c":37},{"s":34.6,"t":-0.82,"c":37},{"s":34.58,"t":-0.88,"c":37},
{"s":34.6,"t":-0.92,"c":25},{"s":34.58,"t":-0.95,"c":25},{"s":34.62,"t":-0.78,"c":25},{"s":34.63,"t":-0.9,"c":25},{"s":34.65,"t":-0.7,"c":25},{"s":34.55,"t":-1.04,"c":12},{"s":34.66,"t":-1.03,"c":12},{"s":34.66,"t":-1.08,"c":20},{"s":34.7,"t":-1.04,"c":12},{"s":34.65,"t":-0.75,"c":10},{"s":34.63,"t":-0.85,"c":10},{"s":34.62,"t":-0.95,"c":10},
{"s":34.76,"t":-0.21,"c":12},{"s":34.72,"t":-0.28,"c":12},{"s":34.8,"t":-0.26,"c":12},{"s":34.83,"t":-0.34,"c":12},{"s":34.69,"t":-0.4,"c":12},{"s":34.67,"t":-0.55,"c":12},{"s":34.86,"t":-0.45,"c":12},{"s":34.9,"t":-0.52,"c":12},{"s":34.92,"t":-0.6,"c":12},{"s":34.8,"t":-0.7,"c":27},{"s":34.84,"t":-0.75,"c":27},{"s":34.88,"t":-0.82,"c":27},{"s":34.92,"t":-0.9,"c":27},{"s":34.96,"t":-0.98,"c":27},{"s":35,"t":-1.05,"c":27},{"s":35.04,"t":-1.12,"c":12},{"s":35.05,"t":-1.18,"c":5},{"s":35.03,"t":-1.12,"c":5},{"s":35.06,"t":-1.18,"c":12},{"s":35.05,"t":-1.21,"c":27},{"s":34.97,"t":-0.9,"c":37},{"s":35,"t":-0.95,"c":37},{"s":34.78,"t":-0.85,"c":40},{"s":34.75,"t":-0.95,"c":45},{"s":34.7,"t":-1.02,"c":45},
{"s":34.76,"t":-0.25,"c":62},{"s":34.74,"t":-0.32,"c":62},{"s":34.78,"t":-0.32,"c":62},{"s":34.72,"t":-0.4,"c":62},{"s":34.77,"t":-0.4,"c":62},{"s":34.82,"t":-0.4,"c":62},{"s":34.7,"t":-0.48,"c":62},{"s":34.75,"t":-0.48,"c":62},{"s":34.8,"t":-0.48,"c":62},{"s":34.85,"t":-0.48,"c":62},{"s":34.69,"t":-0.56,"c":62},{"s":34.74,"t":-0.56,"c":62},{"s":34.79,"t":-0.56,"c":62},{"s":34.84,"t":-0.56,"c":62},{"s":34.88,"t":-0.58,"c":62},{"s":34.68,"t":-0.64,"c":62},{"s":34.73,"t":-0.64,"c":62},{"s":34.78,"t":-0.64,"c":62},{"s":34.84,"t":-0.64,"c":62},{"s":34.89,"t":-0.66,"c":62},{"s":34.68,"t":-0.72,"c":62},{"s":34.73,"t":-0.72,"c":62},{"s":34.77,"t":-0.72,"c":62},{"s":34.86,"t":-0.72,"c":62},{"s":34.91,"t":-0.74,"c":62},{"s":34.66,"t":-0.8,"c":62},{"s":34.71,"t":-0.8,"c":62},{"s":34.76,"t":-0.8,"c":62},{"s":34.88,"t":-0.8,"c":62},{"s":34.93,"t":-0.82,"c":62},{"s":34.66,"t":-0.88,"c":62},{"s":34.71,"t":-0.88,"c":62},{"s":34.75,"t":-0.88,"c":62},{"s":34.91,"t":-0.88,"c":62},{"s":34.95,"t":-0.9,"c":62},{"s":34.66,"t":-0.96,"c":62},{"s":34.7,"t":-0.96,"c":62},{"s":34.94,"t":-0.96,"c":62},{"s":34.98,"t":-0.98,"c":62},{"s":34.97,"t":-1.03,"c":62},{"s":35.01,"t":-1.05,"c":62},{"s":34.68,"t":-1,"c":62},{"s":34.7,"t":-1.02,"c":62},
{"s":34.14,"t":-1.4,"c":62},{"s":34.18,"t":-1.47,"c":55},{"s":34.22,"t":-1.53,"c":50},{"s":34.24,"t":-1.57,"c":50},{"s":34.22,"t":-1.65,"c":47},{"s":34.24,"t":-1.67,"c":47},{"s":34.27,"t":-1.62,"c":37},{"s":34.33,"t":-1.65,"c":25},{"s":34.34,"t":-1.62,"c":10},{"s":34.33,"t":-1.7,"c":10},{"s":34.29,"t":-1.72,"c":5},{"s":34.35,"t":-1.72,"c":5},{"s":34.27,"t":-1.76,"c":33},{"s":34.3,"t":-1.78,"c":27},{"s":34.31,"t":-1.8,"c":12},{"s":34.43,"t":-1.76,"c":27},{"s":34.4,"t":-1.76,"c":37},{"s":34.42,"t":-1.74,"c":50},{"s":34.4,"t":-1.72,"c":50},{"s":34.4,"t":-1.65,"c":62}],
"g":[{"s":33.98,"t":-1.84,"c":25},{"s":34,"t":-1.8,"c":25},{"s":34.05,"t":-1.8,"c":25},{"s":34.03,"t":-1.84,"c":25},{"s":34.05,"t":-1.72,"c":25},{"s":34.17,"t":-1.62,"c":25},{"s":34.22,"t":-1.63,"c":25},{"s":34.15,"t":-1.7,"c":25},{"s":34.18,"t":-1.75,"c":25},{"s":34.15,"t":-1.8,"c":25},{"s":34.4,"t":-1.52,"c":25},{"s":34.42,"t":-1.5,"c":25},{"s":34.45,"t":-1.52,"c":25},{"s":34.44,"t":-1.57,"c":25},{"s":34.42,"t":-1.57,"c":25},{"s":34.2,"t":-1.7,"c":25},
{"s":34.08,"t":-1.84,"c":8},{"s":34.1,"t":-1.83,"c":8},{"s":34.2,"t":-1.85,"c":8},{"s":34.25,"t":-1.85,"c":8},{"s":34.3,"t":-1.85,"c":8},{"s":34.35,"t":-1.85,"c":8},{"s":34.25,"t":-1.8,"c":8},{"s":34.3,"t":-1.8,"c":8},{"s":34.35,"t":-1.78,"c":8},{"s":34.3,"t":-1.73,"c":8},{"s":34.34,"t":-1.72,"c":8},{"s":34.25,"t":-1.75,"c":8},{"s":34.38,"t":-1.75,"c":8},{"s":34.38,"t":-1.65,"c":8},{"s":34.49,"t":-1.6,"c":8},{"s":34.5,"t":-1.55,"c":8},{"s":34.52,"t":-1.63,"c":8},{"s":34.53,"t":-1.7,"c":8},{"s":34.5,"t":-1.75,"c":8},{"s":34.25,"t":-1.88,"c":8},{"s":34.3,"t":-1.89,"c":8},{"s":34.35,"t":-1.9,"c":8},{"s":34.38,"t":-1.95,"c":8},{"s":34.42,"t":-1.9,"c":8},{"s":34.42,"t":-1.8,"c":8},
{"s":34.18,"t":-1.85,"c":12},{"s":34.22,"t":-1.78,"c":12},{"s":34.4,"t":-1.72,"c":12},{"s":34.38,"t":-1.93,"c":12},{"s":34.4,"t":-1.97,"c":12},{"s":34.44,"t":-1.62,"c":30},{"s":34.44,"t":-1.7,"c":33},{"s":34.48,"t":-1.65,"c":30},{"s":34.52,"t":-1.75,"c":30},{"s":34.54,"t":-1.82,"c":33},{"s":34.48,"t":-1.72,"c":30},{"s":34.38,"t":-1.88,"c":45},{"s":34.4,"t":-1.9,"c":45},{"s":34.42,"t":-1.88,"c":45},{"s":34.44,"t":-1.85,"c":45},
{"s":34.46,"t":-1.63,"c":62},{"s":34.49,"t":-1.68,"c":62},{"s":34.41,"t":-1.75,"c":62},{"s":34.39,"t":-1.8,"c":62},{"s":34.43,"t":-1.8,"c":62},{"s":34.36,"t":-1.84,"c":62},{"s":34.4,"t":-1.85,"c":62},{"s":34.38,"t":-1.88,"c":62},{"s":34.42,"t":-1.88,"c":62},{"s":34.5,"t":-1.74,"c":62},{"s":34.5,"t":-1.8,"c":62},{"s":34.52,"t":-1.82,"c":62}],
"h":[{"s":34.76,"t":-0.11,"c":47},{"s":34.77,"t":-0.16,"c":47},{"s":34.77,"t":-0.22,"c":47},{"s":34.78,"t":-0.28,"c":47},
{"s":34.3,"t":-1.33,"c":22},{"s":34.38,"t":-1.37,"c":12},{"s":34.36,"t":-1.42,"c":18},{"s":34.39,"t":-1.48,"c":12},{"s":34.32,"t":-1.55,"c":18},{"s":34.34,"t":-1.6,"c":18},{"s":34.38,"t":-1.62,"c":12},{"s":34.48,"t":-0.93,"c":18},{"s":34.53,"t":-0.87,"c":18},{"s":34.43,"t":-1.14,"c":18},{"s":34.47,"t":-1.09,"c":18},{"s":34.46,"t":-1.18,"c":18},{"s":34.41,"t":-1.29,"c":18},{"s":34.58,"t":-0.7,"c":18},{"s":34.12,"t":-1.96,"c":12},{"s":34.2,"t":-1.95,"c":12},{"s":34.16,"t":-1.96,"c":12},{"s":34.25,"t":-1.98,"c":12},{"s":34.3,"t":-1.85,"c":12},
{"s":34.6,"t":-0.68,"c":12},{"s":34.57,"t":-0.76,"c":12},{"s":34.54,"t":-0.82,"c":12},{"s":34.51,"t":-0.9,"c":12},{"s":34.5,"t":-0.98,"c":12},{"s":34.47,"t":-1.06,"c":12},{"s":34.45,"t":-1.14,"c":12},{"s":34.44,"t":-1.22,"c":12},{"s":34.42,"t":-1.32,"c":12},{"s":34.4,"t":-1.42,"c":12},{"s":34.37,"t":-1.5,"c":12},{"s":34.35,"t":-1.6,"c":12},{"s":34.33,"t":-1.7,"c":12},{"s":34.28,"t":-1.76,"c":12},{"s":34.23,"t":-1.87,"c":12},{"s":34.18,"t":-1.9,"c":12},{"s":34.25,"t":-1.93,"c":12},
{"s":34.71,"t":-0.55,"c":5},{"s":34.69,"t":-0.6,"c":5},{"s":34.66,"t":-0.65,"c":5},{"s":34.62,"t":-0.7,"c":5},{"s":34.67,"t":-0.72,"c":5},{"s":34.6,"t":-0.78,"c":5},{"s":34.65,"t":-0.8,"c":5},{"s":34.58,"t":-0.86,"c":5},{"s":34.63,"t":-0.88,"c":5},{"s":34.56,"t":-0.94,"c":5},{"s":34.61,"t":-0.96,"c":5},{"s":34.55,"t":-1.02,"c":5},{"s":34.59,"t":-1.04,"c":5},{"s":34.52,"t":-1.1,"c":5},{"s":34.57,"t":-1.12,"c":5},{"s":34.5,"t":-1.18,"c":5},{"s":34.55,"t":-1.2,"c":5},{"s":34.48,"t":-1.26,"c":5},{"s":34.53,"t":-1.28,"c":5},{"s":34.46,"t":-1.34,"c":5},{"s":34.51,"t":-1.36,"c":5},{"s":34.44,"t":-1.42,"c":5},{"s":34.49,"t":-1.44,"c":5},{"s":34.42,"t":-1.5,"c":5},{"s":34.47,"t":-1.52,"c":5},{"s":34.4,"t":-1.58,"c":5},{"s":34.44,"t":-1.6,"c":5},{"s":34.38,"t":-1.66,"c":5},{"s":34.42,"t":-1.68,"c":5},{"s":34.35,"t":-1.74,"c":5},{"s":34.4,"t":-1.76,"c":5},{"s":34.32,"t":-1.82,"c":5},{"s":34.37,"t":-1.84,"c":5},{"s":34.3,"t":-1.9,"c":5},{"s":34.35,"t":-1.9,"c":5},{"s":34.3,"t":-1.97,"c":5},
{"s":34.8,"t":-0.3,"c":30},{"s":34.82,"t":-0.4,"c":30},{"s":34.84,"t":-0.5,"c":30},{"s":34.84,"t":-0.6,"c":30},{"s":34.83,"t":-0.7,"c":50},{"s":34.8,"t":-0.8,"c":50},{"s":34.78,"t":-0.88,"c":50},{"s":34.74,"t":-1,"c":50},{"s":34.7,"t":-1.1,"c":30},{"s":34.7,"t":-1.14,"c":47},{"s":34.66,"t":-1.26,"c":47},{"s":34.62,"t":-1.36,"c":47},{"s":34.58,"t":-1.44,"c":47},{"s":34.55,"t":-1.55,"c":47},{"s":34.5,"t":-1.68,"c":47},{"s":34.36,"t":-1.8,"c":37},{"s":34.34,"t":-1.88,"c":37},{"s":34.36,"t":-1.92,"c":37},
{"s":34.78,"t":-0.3,"c":62},{"s":34.8,"t":-0.38,"c":62},{"s":34.81,"t":-0.46,"c":62},{"s":34.82,"t":-0.54,"c":62},{"s":34.82,"t":-0.62,"c":62},{"s":34.82,"t":-0.7,"c":62},{"s":34.77,"t":-0.45,"c":62},{"s":34.77,"t":-0.55,"c":62},{"s":34.76,"t":-0.62,"c":62},{"s":34.77,"t":-0.7,"c":62},{"s":34.74,"t":-0.75,"c":62},{"s":34.79,"t":-0.76,"c":62},{"s":34.73,"t":-0.82,"c":62},{"s":34.77,"t":-0.83,"c":62},{"s":34.71,"t":-0.88,"c":62},{"s":34.75,"t":-0.9,"c":62},{"s":34.69,"t":-0.95,"c":62},{"s":34.73,"t":-0.97,"c":62},{"s":34.67,"t":-1.02,"c":62},{"s":34.7,"t":-1.04,"c":62},{"s":34.65,"t":-1.08,"c":62},{"s":34.68,"t":-1.1,"c":62},{"s":34.63,"t":-1.14,"c":62},{"s":34.66,"t":-1.17,"c":62},{"s":34.6,"t":-1.2,"c":62},{"s":34.64,"t":-1.24,"c":62},{"s":34.58,"t":-1.28,"c":62},{"s":34.61,"t":-1.3,"c":62},{"s":34.56,"t":-1.35,"c":62},{"s":34.59,"t":-1.37,"c":62},{"s":34.54,"t":-1.42,"c":55},{"s":34.53,"t":-1.5,"c":62},{"s":34.51,"t":-1.55,"c":62},{"s":34.5,"t":-1.58,"c":62},{"s":34.47,"t":-1.65,"c":62},{"s":34.45,"t":-1.73,"c":62},{"s":34.43,"t":-1.78,"c":62},{"s":34.42,"t":-1.84,"c":62},{"s":34.38,"t":-1.88,"c":62},{"s":34.4,"t":-1.9,"c":62},{"s":34.38,"t":-1.95,"c":62},{"s":34.36,"t":-1.97,"c":62},{"s":34.41,"t":-1.95,"c":62}]},
"concat":[
{"width":262,"height":262,"title":{"text":"(a)","dx":-6,"offset":-26.6},"encoding":{"x":{"field":"s","type":"quantitative","scale":{"domain":[33.4,35.2],"nice":false,"zero":false},"axis":{"values":[33.5,34,34.5,35],"labelExpr":"''+datum.value","labelFontSize":25,"labelPadding":21,"title":"Salinity (psu)","titlePadding":13.6}},"y":{"field":"t","type":"quantitative","scale":{"domain":[-2,0],"nice":false,"zero":false},"axis":{"values":[0,-0.5,-1,-1.5,-2],"labelExpr":"''+datum.value","labelFontSize":25,"labelPadding":12,"title":"Potential temperature (°C)","titlePadding":12}}},"layer":[{"data":{"name":"a"},"mark":{"type":"circle","size":130,"opacity":1,"clip":false},"encoding":{"color":{"field":"c","type":"quantitative","legend":null,"scale":{"domain":[0,12.5,37.5,62.5,87.5,100],"range":["#00008f","#0000ff","#00ffff","#ffff00","#ff0000","#800000"]}}}},{"data":{"name":"fl"},"mark":{"type":"line","color":"#000000","strokeWidth":1.6},"encoding":{"detail":{"field":"g"}}},{"data":{"values":[{"label":"SES CTD","s":34.47,"t":0}]},"mark":{"type":"text","font":"Liberation Sans","fontWeight":"bold","fontSize":24.5,"color":"#1a1a1a","dy":-19.5},"encoding":{"text":{"field":"label"}}}]},
{"width":262,"height":262,"title":{"text":"(b)","dx":-2,"offset":-26.6},"encoding":{"x":{"field":"s","type":"quantitative","scale":{"domain":[33.4,35.2],"nice":false,"zero":false},"axis":{"values":[33.5,34,34.5,35],"labelExpr":"''+datum.value","labelFontSize":28,"labelPadding":23,"title":"Salinity (psu)","titlePadding":9.5}},"y":{"field":"t","type":"quantitative","scale":{"domain":[-2,0],"nice":false,"zero":false},"axis":{"values":[0,-0.5,-1,-1.5,-2],"labelExpr":"''+datum.value","labelFontSize":28,"labelPadding":12,"title":"Potential temperature (°C)","titlePadding":12}}},"layer":[{"data":{"name":"b"},"mark":{"type":"circle","size":130,"opacity":1,"clip":false},"encoding":{"color":{"field":"c","type":"quantitative","legend":null,"scale":{"domain":[0,12.5,37.5,62.5,87.5,100],"range":["#00008f","#0000ff","#00ffff","#ffff00","#ff0000","#800000"]}}}},{"data":{"name":"fl"},"mark":{"type":"line","color":"#000000","strokeWidth":1.6},"encoding":{"detail":{"field":"g"}}},{"data":{"values":[{"label":"ROMS","s":34.37,"t":0}]},"mark":{"type":"text","font":"Liberation Sans","fontWeight":"bold","fontSize":24.5,"color":"#1a1a1a","dy":-19.5},"encoding":{"text":{"field":"label"}}}]},
{"width":262,"height":263,"title":{"text":"(c)","dx":-1.5,"offset":-9.4},"encoding":{"x":{"field":"s","type":"quantitative","scale":{"domain":[33.4,35.2],"nice":false,"zero":false},"axis":{"values":[33.5,34,34.5,35],"labelExpr":"''+datum.value","labelFontSize":25,"labelPadding":21,"title":"Salinity (psu)","titlePadding":13.6}},"y":{"field":"t","type":"quantitative","scale":{"domain":[-2,0],"nice":false,"zero":false},"axis":{"values":[0,-0.5,-1,-1.5,-2],"labelExpr":"''+datum.value","labelFontSize":25,"labelPadding":12,"title":"Potential temperature (°C)","titlePadding":12}}},"layer":[{"data":{"name":"c"},"mark":{"type":"circle","size":130,"opacity":1,"clip":false},"encoding":{"color":{"field":"c","type":"quantitative","legend":null,"scale":{"domain":[0,12.5,37.5,62.5,87.5,100],"range":["#00008f","#0000ff","#00ffff","#ffff00","#ff0000","#800000"]}}}},{"data":{"name":"fl"},"mark":{"type":"line","color":"#000000","strokeWidth":1.6},"encoding":{"detail":{"field":"g"}}}]},
{"width":262,"height":263,"title":{"text":"(d)","dx":-2.5,"offset":-9.4},"encoding":{"x":{"field":"s","type":"quantitative","scale":{"domain":[33.4,35.2],"nice":false,"zero":false},"axis":{"values":[33.5,34,34.5,35],"labelExpr":"''+datum.value","labelFontSize":28,"labelPadding":23,"title":"Salinity (psu)","titlePadding":9.5}},"y":{"field":"t","type":"quantitative","scale":{"domain":[-2,0],"nice":false,"zero":false},"axis":{"values":[0,-0.5,-1,-1.5,-2],"labelExpr":"''+datum.value","labelFontSize":28,"labelPadding":12,"title":"Potential temperature (°C)","titlePadding":12}}},"layer":[{"data":{"name":"d"},"mark":{"type":"circle","size":130,"opacity":1,"clip":false},"encoding":{"color":{"field":"c","type":"quantitative","legend":null,"scale":{"domain":[0,12.5,37.5,62.5,87.5,100],"range":["#00008f","#0000ff","#00ffff","#ffff00","#ff0000","#800000"]}}}},{"data":{"name":"fl"},"mark":{"type":"line","color":"#000000","strokeWidth":1.6},"encoding":{"detail":{"field":"g"}}}]},
{"width":262,"height":262,"title":{"text":"(e)","dx":-1.5,"offset":-9.4},"encoding":{"x":{"field":"s","type":"quantitative","scale":{"domain":[33.4,35.2],"nice":false,"zero":false},"axis":{"values":[33.5,34,34.5,35],"labelExpr":"''+datum.value","labelFontSize":25,"labelPadding":21,"title":"Salinity (psu)","titlePadding":13.6}},"y":{"field":"t","type":"quantitative","scale":{"domain":[-2,0],"nice":false,"zero":false},"axis":{"values":[0,-0.5,-1,-1.5,-2],"labelExpr":"''+datum.value","labelFontSize":25,"labelPadding":12,"title":"Potential temperature (°C)","titlePadding":12}}},"layer":[{"data":{"name":"e"},"mark":{"type":"circle","size":130,"opacity":1,"clip":false},"encoding":{"color":{"field":"c","type":"quantitative","legend":null,"scale":{"domain":[0,12.5,37.5,62.5,87.5,100],"range":["#00008f","#0000ff","#00ffff","#ffff00","#ff0000","#800000"]}}}},{"data":{"name":"fl"},"mark":{"type":"line","color":"#000000","strokeWidth":1.6},"encoding":{"detail":{"field":"g"}}}]},
{"width":262,"height":262,"title":{"text":"(f)","dx":4.5,"offset":-9.4},"encoding":{"x":{"field":"s","type":"quantitative","scale":{"domain":[33.4,35.2],"nice":false,"zero":false},"axis":{"values":[33.5,34,34.5,35],"labelExpr":"''+datum.value","labelFontSize":28,"labelPadding":23,"title":"Salinity (psu)","titlePadding":9.5}},"y":{"field":"t","type":"quantitative","scale":{"domain":[-2,0],"nice":false,"zero":false},"axis":{"values":[0,-0.5,-1,-1.5,-2],"labelExpr":"''+datum.value","labelFontSize":28,"labelPadding":12,"title":"Potential temperature (°C)","titlePadding":12}}},"layer":[{"data":{"name":"f"},"mark":{"type":"circle","size":130,"opacity":1,"clip":false},"encoding":{"color":{"field":"c","type":"quantitative","legend":null,"scale":{"domain":[0,12.5,37.5,62.5,87.5,100],"range":["#00008f","#0000ff","#00ffff","#ffff00","#ff0000","#800000"]}}}},{"data":{"name":"fl"},"mark":{"type":"line","color":"#000000","strokeWidth":1.6},"encoding":{"detail":{"field":"g"}}}]},
{"width":262,"height":264,"title":{"text":"(g)","dx":-1.5,"offset":-12.7},"encoding":{"x":{"field":"s","type":"quantitative","scale":{"domain":[33.4,35.2],"nice":false,"zero":false},"axis":{"values":[33.5,34,34.5,35],"labelExpr":"''+datum.value","labelFontSize":25,"labelPadding":21,"title":"Salinity (psu)","titlePadding":13.6}},"y":{"field":"t","type":"quantitative","scale":{"domain":[-2,0],"nice":false,"zero":false},"axis":{"values":[0,-0.5,-1,-1.5,-2],"labelExpr":"''+datum.value","labelFontSize":25,"labelPadding":12,"title":"Potential temperature (°C)","titlePadding":12}}},"layer":[{"data":{"name":"g"},"mark":{"type":"circle","size":130,"opacity":1,"clip":false},"encoding":{"color":{"field":"c","type":"quantitative","legend":null,"scale":{"domain":[0,12.5,37.5,62.5,87.5,100],"range":["#00008f","#0000ff","#00ffff","#ffff00","#ff0000","#800000"]}}}},{"data":{"name":"fl"},"mark":{"type":"line","color":"#000000","strokeWidth":1.6},"encoding":{"detail":{"field":"g"}}}]},
{"width":262,"height":264,"title":{"text":"(h)","dx":-2.5,"offset":-12.7},"encoding":{"x":{"field":"s","type":"quantitative","scale":{"domain":[33.4,35.2],"nice":false,"zero":false},"axis":{"values":[33.5,34,34.5,35],"labelExpr":"''+datum.value","labelFontSize":28,"labelPadding":23,"title":"Salinity (psu)","titlePadding":9.5}},"y":{"field":"t","type":"quantitative","scale":{"domain":[-2,0],"nice":false,"zero":false},"axis":{"values":[0,-0.5,-1,-1.5,-2],"labelExpr":"''+datum.value","labelFontSize":28,"labelPadding":12,"title":"Potential temperature (°C)","titlePadding":12}}},"layer":[{"data":{"name":"h"},"mark":{"type":"circle","size":130,"opacity":1,"clip":false},"encoding":{"color":{"field":"c","type":"quantitative","legend":null,"scale":{"domain":[0,12.5,37.5,62.5,87.5,100],"range":["#00008f","#0000ff","#00ffff","#ffff00","#ff0000","#800000"]}}}},{"data":{"name":"fl"},"mark":{"type":"line","color":"#000000","strokeWidth":1.6},"encoding":{"detail":{"field":"g"}}}]}
]}
